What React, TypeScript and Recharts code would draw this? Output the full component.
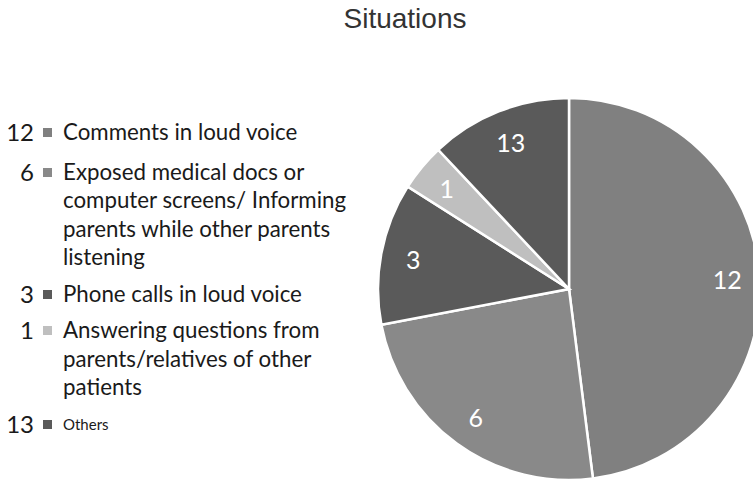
import { PieChart, Pie, Cell } from 'recharts'

// slice sizes as drawn (angles)
const sliceValues = [12, 6, 3, 1, 3]
// numbers printed on the chart and legend
const shownNumbers = ['12', '6', '3', '1', '13']
const categories = [
  'Comments in loud voice',
  'Exposed medical docs or computer screens/ Informing parents while other parents listening',
  'Phone calls in loud voice',
  'Answering questions from parents/relatives of other patients',
  'Others',
]
const legendLines = [
  ['Comments in loud voice'],
  ['Exposed medical docs or', 'computer screens/ Informing', 'parents while other parents', 'listening'],
  ['Phone calls in loud voice'],
  ['Answering questions from', 'parents/relatives of other', 'patients'],
  ['Others'],
]
const colors = ['#808080', '#898989', '#5a5a5a', '#bfbfbf', '#5a5a5a']

const chartData = categories.map((name, i) => ({
  name,
  value: sliceValues[i],
  shown: shownNumbers[i],
}))

const RADIAN = Math.PI / 180
const font = 'Lato, "Open Sans", sans-serif'
const LINE = 28.5

function renderLabel(props: any) {
  const { cx, cy, midAngle, outerRadius, index } = props
  const r = outerRadius * 0.83
  const x = cx + r * Math.cos(-midAngle * RADIAN)
  const y = cy + r * Math.sin(-midAngle * RADIAN)
  return (
    <text
      x={x}
      y={y}
      fill="#ffffff"
      textAnchor="middle"
      dominantBaseline="central"
      fontSize={25}
      fontFamily={font}
    >
      {shownNumbers[index]}
    </text>
  )
}

export default function App() {
  return (
    <div
      style={{
        position: 'absolute',
        left: 0,
        top: 0,
        width: 753,
        height: 483,
        background: '#fff',
        overflow: 'hidden',
      }}
    >
      <div
        style={{
          position: 'absolute',
          left: 0,
          width: 810,
          top: 3,
          textAlign: 'center',
          fontFamily: '"Liberation Sans", Arial, sans-serif',
          fontSize: 28,
          color: '#333',
        }}
      >
        Situations
      </div>

      <PieChart width={753} height={483} style={{ position: 'absolute', left: 0, top: 0 }}>
        <Pie
          data={chartData}
          dataKey="value"
          nameKey="name"
          cx={564}
          cy={284}
          outerRadius={191}
          startAngle={90}
          endAngle={-270}
          stroke="#ffffff"
          strokeWidth={2.5}
          label={renderLabel}
          labelLine={false}
          isAnimationActive={false}
        >
          {chartData.map((d, i) => (
            <Cell key={d.name} fill={colors[i]} />
          ))}
        </Pie>
      </PieChart>

      <div
        style={{
          position: 'absolute',
          left: 0,
          top: 118,
          fontFamily: font,
          color: '#1a1a1a',
        }}
      >
        {legendLines.map((lines, i) => (
          <div
            key={i}
            style={{
              display: 'flex',
              alignItems: 'flex-start',
              height: lines.length * LINE,
              marginBottom: i === 0 ? 11 : 8,
            }}
          >
            <div style={{ width: 34, textAlign: 'right', fontSize: 24, lineHeight: LINE + 'px' }}>
              {shownNumbers[i]}
            </div>
            <div
              style={{
                width: 9,
                height: 9,
                background: colors[i],
                marginLeft: 9,
                marginTop: 10,
              }}
            />
            <div style={{ marginLeft: 11 }}>
              {lines.map((t) => (
                <div
                  key={t}
                  style={{
                    fontSize: i === 4 ? 15 : 22.3,
                    lineHeight: LINE + 'px',
                    height: LINE,
                    whiteSpace: 'nowrap',
                  }}
                >
                  {t}
                </div>
              ))}
            </div>
          </div>
        ))}
      </div>
    </div>
  )
}
